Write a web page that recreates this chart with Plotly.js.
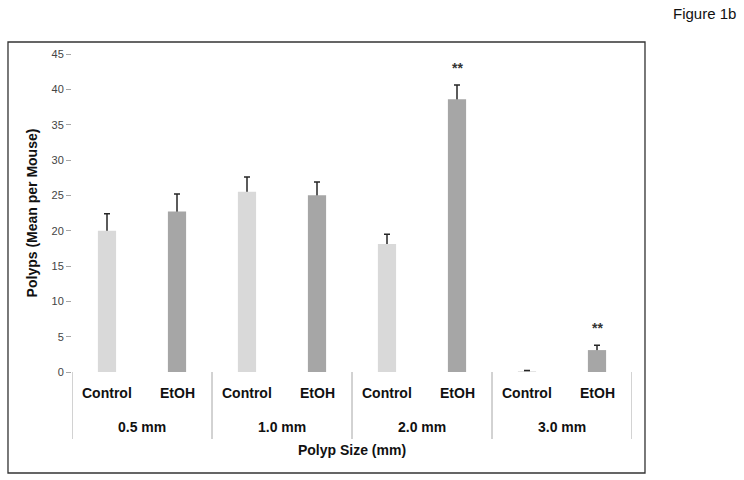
<!DOCTYPE html>
<html>
<head>
<meta charset="utf-8">
<script src="https://cdn.plot.ly/plotly-3.0.1.min.js"></script>
<style>
  html, body { margin: 0; padding: 0; background: #ffffff; }
  #chart { width: 744px; height: 480px; }
</style>
</head>
<body>
<div id="chart"></div>
<script>
// ---- data ----
const groups = ["0.5 mm", "1.0 mm", "2.0 mm", "3.0 mm"];
const treatments = ["Control", "EtOH"];
const controlMean = [20.0, 25.5, 18.1, 0.1];
const controlErr  = [2.4, 2.1, 1.4, 0.1];
const etohMean    = [22.7, 25.0, 38.6, 3.1];
const etohErr     = [2.5, 1.9, 2.0, 0.7];
const significance = ["", "", "**", "**"]; // EtOH vs Control
const yTitle = "Polyps (Mean per Mouse)";
const xTitle = "Polyp Size (mm)";
const figLabel = "Figure 1b";

// ---- positions from indices ----
const nT = treatments.length;
const xControl = groups.map((g, i) => i * nT + 0);
const xEtoh    = groups.map((g, i) => i * nT + 1);
const nCat = groups.length * nT;

const FONT = "Liberation Sans, Arial, sans-serif";
const barW = 0.26;

const traces = [
  {
    type: "bar", x: xControl, y: controlMean, width: barW,
    marker: { color: "#d9d9d9", line: { width: 0 } },
    name: treatments[0], showlegend: false, hoverinfo: "skip", zorder: 1
  },
  {
    type: "bar", x: xEtoh, y: etohMean, width: barW,
    marker: { color: "#a6a6a6", line: { width: 0 } },
    name: treatments[1], showlegend: false, hoverinfo: "skip", zorder: 1
  },
  // error bars drawn beneath the bars so only the upper half shows
  {
    type: "scatter", mode: "markers", x: xControl, y: controlMean,
    marker: { opacity: 0, size: 1 }, showlegend: false, hoverinfo: "skip", zorder: 0,
    error_y: { type: "data", array: controlErr, symmetric: true, color: "#262626", thickness: 1.5, width: 3 }
  },
  {
    type: "scatter", mode: "markers", x: xEtoh, y: etohMean,
    marker: { opacity: 0, size: 1 }, showlegend: false, hoverinfo: "skip", zorder: 0,
    error_y: { type: "data", array: etohErr, symmetric: true, color: "#262626", thickness: 1.5, width: 3 }
  }
];

const annotations = [];
for (let g = 0; g < groups.length; g++) {
  treatments.forEach((t, k) => {
    annotations.push({
      xref: "x", yref: "paper", x: g * nT + k, y: -0.066, yanchor: "middle",
      text: "<b>" + t + "</b>", showarrow: false, font: { family: FONT, size: 14, color: "#111" }
    });
  });
  annotations.push({
    xref: "x", yref: "paper", x: g * nT + (nT - 1) / 2, y: -0.173, yanchor: "middle",
    text: "<b>" + groups[g] + "</b>", showarrow: false, font: { family: FONT, size: 14, color: "#111" }
  });
  if (significance[g]) {
    annotations.push({
      xref: "x", yref: "y", x: xEtoh[g], y: etohMean[g] + etohErr[g], yanchor: "bottom", yshift: 7,
      text: "<b>" + significance[g] + "</b>", showarrow: false, font: { family: FONT, size: 14, color: "#333" }
    });
  }
}
annotations.push({
  xref: "paper", yref: "paper", x: 1.1286, y: 1.126, xanchor: "center", yanchor: "middle",
  text: figLabel, showarrow: false, font: { family: FONT, size: 15, color: "#111" }
});

const shapes = [];
for (let g = 0; g <= groups.length; g++) {
  shapes.push({
    type: "line", xref: "x", yref: "paper", x0: g * nT - 0.5, x1: g * nT - 0.5, y0: 0, y1: -0.2107,
    line: { color: "#a6a6a6", width: 1 }
  });
}
shapes.push({
  type: "rect", xref: "paper", yref: "paper", x0: -0.1143, x1: 1.0232, y0: -0.3176, y1: 1.0377,
  line: { color: "#333333", width: 1.3 }, fillcolor: "rgba(0,0,0,0)"
});

const layout = {
  width: 744, height: 480,
  margin: { l: 72, r: 112, t: 54, b: 108 },
  paper_bgcolor: "#ffffff", plot_bgcolor: "#ffffff",
  font: { family: FONT, color: "#111" },
  barmode: "overlay",
  xaxis: {
    range: [-0.5, nCat - 0.5], showticklabels: false, ticks: "", showgrid: false, zeroline: false,
    showline: true, linecolor: "#a6a6a6", linewidth: 1, fixedrange: true,
    title: { text: "<b>" + xTitle + "</b>", standoff: 73, font: { family: FONT, size: 14, color: "#111" } }
  },
  yaxis: {
    range: [0, 45], dtick: 5, tick0: 0, ticks: "outside", ticklen: 5, tickcolor: "#a6a6a6",
    showline: true, linecolor: "#a6a6a6", linewidth: 1, showgrid: false, zeroline: false,
    tickfont: { family: FONT, size: 11, color: "#444" }, fixedrange: true,
    title: { text: "<b>" + yTitle + "</b>", standoff: 10, font: { family: FONT, size: 14, color: "#111" } }
  },
  annotations: annotations,
  shapes: shapes
};

Plotly.newPlot("chart", traces, layout, { staticPlot: true, displayModeBar: false });
</script>
</body>
</html>
